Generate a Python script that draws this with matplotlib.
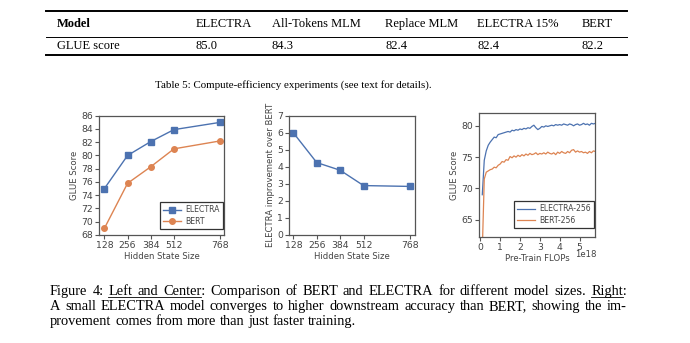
import numpy as np
import matplotlib.pyplot as plt
from matplotlib.lines import Line2D

# table values
models = ["ELECTRA", "All-Tokens MLM", "Replace MLM", "ELECTRA 15%", "BERT"]
glue_table = ["85.0", "84.3", "82.4", "82.4", "82.2"]

# model-size sweep
hidden = [128, 256, 384, 512, 768]
electra_glue = [75.0, 80.0, 82.1, 83.9, 85.0]
bert_glue = [69.0, 75.8, 78.3, 81.0, 82.2]
improvement = [6.0, 4.25, 3.8, 2.9, 2.85]

# learning curves (x in units of 1e18 FLOPs)
flops = np.round(np.arange(0.1, 5.81, 0.1), 1)
electra_curve = [69.0, 74.5, 76.0, 76.9, 77.4, 77.8, 78.2, 78.1, 78.6, 78.7,
                 78.8, 78.9, 79.0, 79.1, 79.0, 79.3, 79.2, 79.4, 79.3, 79.5,
                 79.4, 79.6, 79.5, 79.7, 79.6, 79.9, 80.1, 79.7, 79.4, 79.6,
                 79.9, 79.8, 80.0, 79.9, 80.0, 80.1, 80.0, 80.2, 80.1, 80.2,
                 80.1, 80.3, 80.2, 80.1, 80.3, 80.2, 80.0, 80.2, 80.3, 80.1,
                 80.2, 80.4, 80.2, 80.3, 80.1, 80.4, 80.3, 80.4]
bert_curve = [60.0, 71.5, 72.6, 72.8, 73.0, 73.1, 73.4, 73.3, 73.7, 73.9,
              74.3, 74.2, 74.6, 74.5, 75.1, 74.9, 75.2, 75.0, 75.3, 75.1,
              75.4, 75.2, 75.5, 75.3, 75.6, 75.4, 75.5, 75.7, 75.4, 75.6,
              75.5, 75.7, 75.5, 75.8, 75.6, 75.5, 75.7, 75.4, 75.8, 75.6,
              75.9, 75.7, 75.6, 75.9, 75.7, 76.1, 76.2, 75.8, 76.0, 75.8,
              75.9, 75.7, 75.8, 75.6, 75.9, 75.7, 76.0, 75.9]

BLUE = "#4c72b0"
ORANGE = "#dd8452"
GREY = "#444444"
SERIF = "Liberation Serif"
W, H = 690, 343

plt.rcParams.update({
    "font.family": "DejaVu Sans",
    "font.size": 6.1,
    "text.color": GREY,
    "axes.labelcolor": GREY,
    "axes.labelsize": 6.1,
    "axes.edgecolor": "#555555",
    "axes.linewidth": 0.9,
    "xtick.color": "#555555",
    "ytick.color": "#555555",
    "xtick.labelcolor": GREY,
    "ytick.labelcolor": GREY,
    "xtick.labelsize": 6.7,
    "ytick.labelsize": 6.7,
    "xtick.major.size": 3,
    "ytick.major.size": 3,
    "xtick.major.width": 0.8,
    "ytick.major.width": 0.8,
    "xtick.major.pad": 1.5,
    "ytick.major.pad": 1.5,
    "axes.labelpad": 1.5,
    "legend.fontsize": 5.6,
})

fig = plt.figure(figsize=(W / 100, H / 100), dpi=100)


def px_axes(x0, y0, x1, y1):
    return fig.add_axes([x0 / W, 1 - y1 / H, (x1 - x0) / W, (y1 - y0) / H])


def hline(x0, x1, y, lw):
    fig.add_artist(Line2D([x0 / W, x1 / W], [1 - y / H, 1 - y / H],
                          color="black", lw=lw, transform=fig.transFigure))


# ---- table ----
tsize = 9.0
hline(46, 627, 11, 1.4)
hline(46, 627, 37.3, 0.7)
hline(46, 627, 55, 1.4)
col_x = [196, 272, 385, 477, 582]
fig.text(57 / W, 1 - 26.7 / H, "Model", family=SERIF, fontsize=tsize,
         weight="bold", color="black", va="baseline")
fig.text(57 / W, 1 - 49.3 / H, "GLUE score", family=SERIF, fontsize=tsize,
         color="black", va="baseline")
for x, m, v in zip(col_x, models, glue_table):
    fig.text(x / W, 1 - 26.7 / H, m, family=SERIF, fontsize=tsize,
             color="black", va="baseline")
    fig.text(x / W, 1 - 49.3 / H, v, family=SERIF, fontsize=tsize,
             color="black", va="baseline")
fig.text(155 / W, 1 - 88 / H,
         "Table 5: Compute-efficiency experiments (see text for details).",
         family=SERIF, fontsize=7.9, color="black", va="baseline")


def style(ax):
    ax.tick_params(top=False, right=False, direction="out")


def boxed_legend(ax, anchor):
    leg = ax.legend(loc="lower right", bbox_to_anchor=anchor, borderaxespad=0,
                    fancybox=False, edgecolor="#333333", framealpha=1,
                    borderpad=0.4, handlelength=2.2, handletextpad=0.6,
                    labelspacing=0.35)
    leg.get_frame().set_linewidth(0.9)


# ---- left: GLUE vs hidden size ----
ax1 = px_axes(99.3, 115.7, 224, 235)
ax1.plot(hidden, electra_glue, "-s", color=BLUE, lw=1, ms=4, label="ELECTRA")
ax1.plot(hidden, bert_glue, "-o", color=ORANGE, lw=1, ms=4, label="BERT")
ax1.set_xlim(100, 788)
ax1.set_ylim(68, 86)
ax1.set_xticks(hidden)
ax1.set_yticks(np.arange(68, 87, 2))
ax1.set_xlabel("Hidden State Size")
ax1.set_ylabel("GLUE Score")
boxed_legend(ax1, (0.99, 0.048))
style(ax1)

# ---- center: improvement ----
ax2 = px_axes(289.3, 115.7, 415.3, 235)
ax2.plot(hidden, improvement, "-s", color=BLUE, lw=1, ms=4)
ax2.set_xlim(106, 795)
ax2.set_ylim(0, 7)
ax2.set_xticks(hidden)
ax2.set_yticks(range(8))
ax2.set_xlabel("Hidden State Size")
ax2.set_ylabel("ELECTRA improvement over BERT")
style(ax2)

# ---- right: learning curves ----
ax3 = px_axes(479.3, 113.3, 595, 236.7)
ax3.plot(flops, electra_curve, color=BLUE, lw=0.9, label="ELECTRA-256")
ax3.plot(flops, bert_curve, color=ORANGE, lw=0.9, label="BERT-256")
ax3.set_xlim(-0.05, 5.78)
ax3.set_ylim(62.3, 82)
ax3.set_xticks(range(6))
ax3.set_xticklabels([str(i) for i in range(6)])
ax3.set_yticks([65, 70, 75, 80])
ax3.set_xlabel("Pre-Train FLOPs")
ax3.set_ylabel("GLUE Score")
# exponent for the x axis, level with the axis label
ax3.text(1.016, -0.148, "1e18", transform=ax3.transAxes, ha="right",
         va="center", color=GREY, fontsize=6.1)
boxed_legend(ax3, (0.991, 0.07))
style(ax3)

# ---- figure caption, justified word by word ----
csize = 10.4
renderer = fig.canvas.get_renderer()


def text_width(s):
    t = fig.text(0, 0, s, family=SERIF, fontsize=csize)
    w = t.get_window_extent(renderer).width
    t.remove()
    return w


def caption_line(words, base_y, x0=50, x1=627, justify=True, underline=()):
    widths = [text_width(w) for w in words]
    if justify:
        gap = (x1 - x0 - sum(widths)) / (len(words) - 1)
    else:
        gap = text_width("a b") - text_width("ab")
    xs = []
    x = x0
    for w, wd in zip(words, widths):
        fig.text(x / W, 1 - base_y / H, w, family=SERIF, fontsize=csize,
                 color="black", va="baseline")
        xs.append(x)
        x += wd + gap
    for i, j in underline:
        end = xs[j] + text_width(words[j].rstrip(":"))
        hline(xs[i], end, base_y + 1.8, 0.6)


caption_line("Figure 4: Left and Center: Comparison of BERT and ELECTRA for "
             "different model sizes. Right:".split(), 294.7,
             underline=[(2, 4), (14, 14)])
caption_line("A small ELECTRA model converges to higher downstream accuracy "
             "than BERT, showing the im-".split(), 309.7)
caption_line("provement comes from more than just faster training.".split(),
             324.7, justify=False)

fig.savefig("out.png", dpi=100)
